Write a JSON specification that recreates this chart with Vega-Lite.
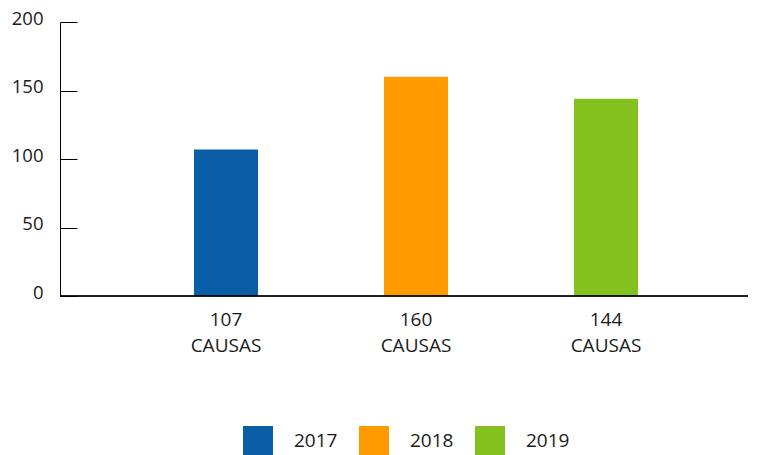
{
  "$schema": "https://vega.github.io/schema/vega-lite/v6.json",
  "width": 688,
  "height": 274,
  "autosize": {"type": "none"},
  "padding": {"left": 60, "top": 22, "right": 13, "bottom": 159},
  "config": {"view": {"stroke": null}, "font": "Open Sans"},
  "data": {
    "values": [
      {"causas": "107 CAUSAS", "year": "2017", "value": 107},
      {"causas": "160 CAUSAS", "year": "2018", "value": 160},
      {"causas": "144 CAUSAS", "year": "2019", "value": 144}
    ]
  },
  "layer": [
    {
      "mark": {"type": "bar"},
      "encoding": {
        "x": {
          "field": "causas", "type": "nominal", "sort": null, "title": null,
          "scale": {"range": [71, 641], "paddingInner": 0.6632, "paddingOuter": 0.3316},
          "axis": {
            "domain": false, "ticks": false, "labelAngle": 0,
            "labelExpr": "split(datum.label, ' ')",
            "labelFontSize": 19, "labelColor": "#1a1a1a",
            "labelPadding": 14, "labelLineHeight": 26
          }
        },
        "y": {
          "field": "value", "type": "quantitative", "title": null,
          "scale": {"domain": [0, 200]},
          "axis": {
            "values": [0, 50, 100, 150, 200], "grid": false,
            "domain": true, "domainColor": "#000", "domainWidth": 1,
            "ticks": true, "tickColor": "#000", "tickSize": -17, "tickWidth": 1,
            "labelFontSize": 18.5, "labelColor": "#1a1a1a",
            "labelPadding": 34, "labelOffset": -4
          }
        },
        "color": {
          "field": "year", "type": "nominal",
          "scale": {"domain": ["2017", "2018", "2019"], "range": ["#0A5EA8", "#FF9900", "#83C21E"]},
          "legend": {
            "title": null, "orient": "none", "direction": "horizontal",
            "legendX": 183, "legendY": 404,
            "symbolType": "square", "symbolSize": 900, "symbolStrokeWidth": 0, "symbolOpacity": 1,
            "labelFontSize": 19, "labelColor": "#1a1a1a",
            "labelOffset": 21, "columnPadding": 21
          }
        }
      }
    },
    {
      "mark": {"type": "rule", "color": "#000", "strokeWidth": 1},
      "encoding": {"y": {"datum": 0}}
    }
  ]
}
